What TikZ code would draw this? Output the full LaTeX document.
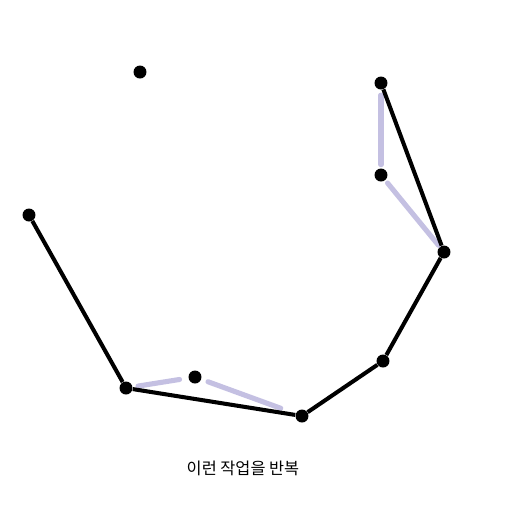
\documentclass[tikz,border=0pt]{standalone}
\usepackage{fontspec}
\newfontfamily\kofont{Noto Sans CJK KR}
\definecolor{lavender}{RGB}{196,192,226}

\begin{document}
\begin{tikzpicture}[x=0.02cm, y=-0.02cm, font=\kofont\fontsize{9.3}{11}\selectfont,
  dot/.style={circle, fill=black, inner sep=0pt, minimum size=0.26cm},
  hull/.style={line width=2.3pt, black},
  trial/.style={line width=2.9pt, lavender, line cap=round}]
  \useasboundingbox (0,0) rectangle (512,512);
  % points
  \node[dot] (p1) at (140,72) {};
  \node[dot] (p2) at (29,215) {};
  \node[dot] (p3) at (126,388) {};
  \node[dot] (p4) at (195,377) {};
  \node[dot] (p5) at (302,416) {};
  \node[dot] (p6) at (383,361) {};
  \node[dot] (p7) at (444,252) {};
  \node[dot] (p8) at (381,175) {};
  \node[dot] (p9) at (381,83) {};
  % discarded trial edges
  \draw[trial, shorten <=3pt, shorten >=5pt] (p3) -- (p4);
  \draw[trial, shorten <=4pt, shorten >=9pt] (p4) -- (p5);
  \draw[trial, shorten <=2pt, shorten >=1pt] (p8) -- (p7);
  \draw[trial, shorten <=2pt, shorten >=3pt] (p8) -- (p9);
  % current chain
  \draw[hull] (p2) -- (p3) -- (p5) -- (p6) -- (p7) -- (p9);
  \node (caption) at (243,468) {이런 작업을 반복};
\end{tikzpicture}
\end{document}
